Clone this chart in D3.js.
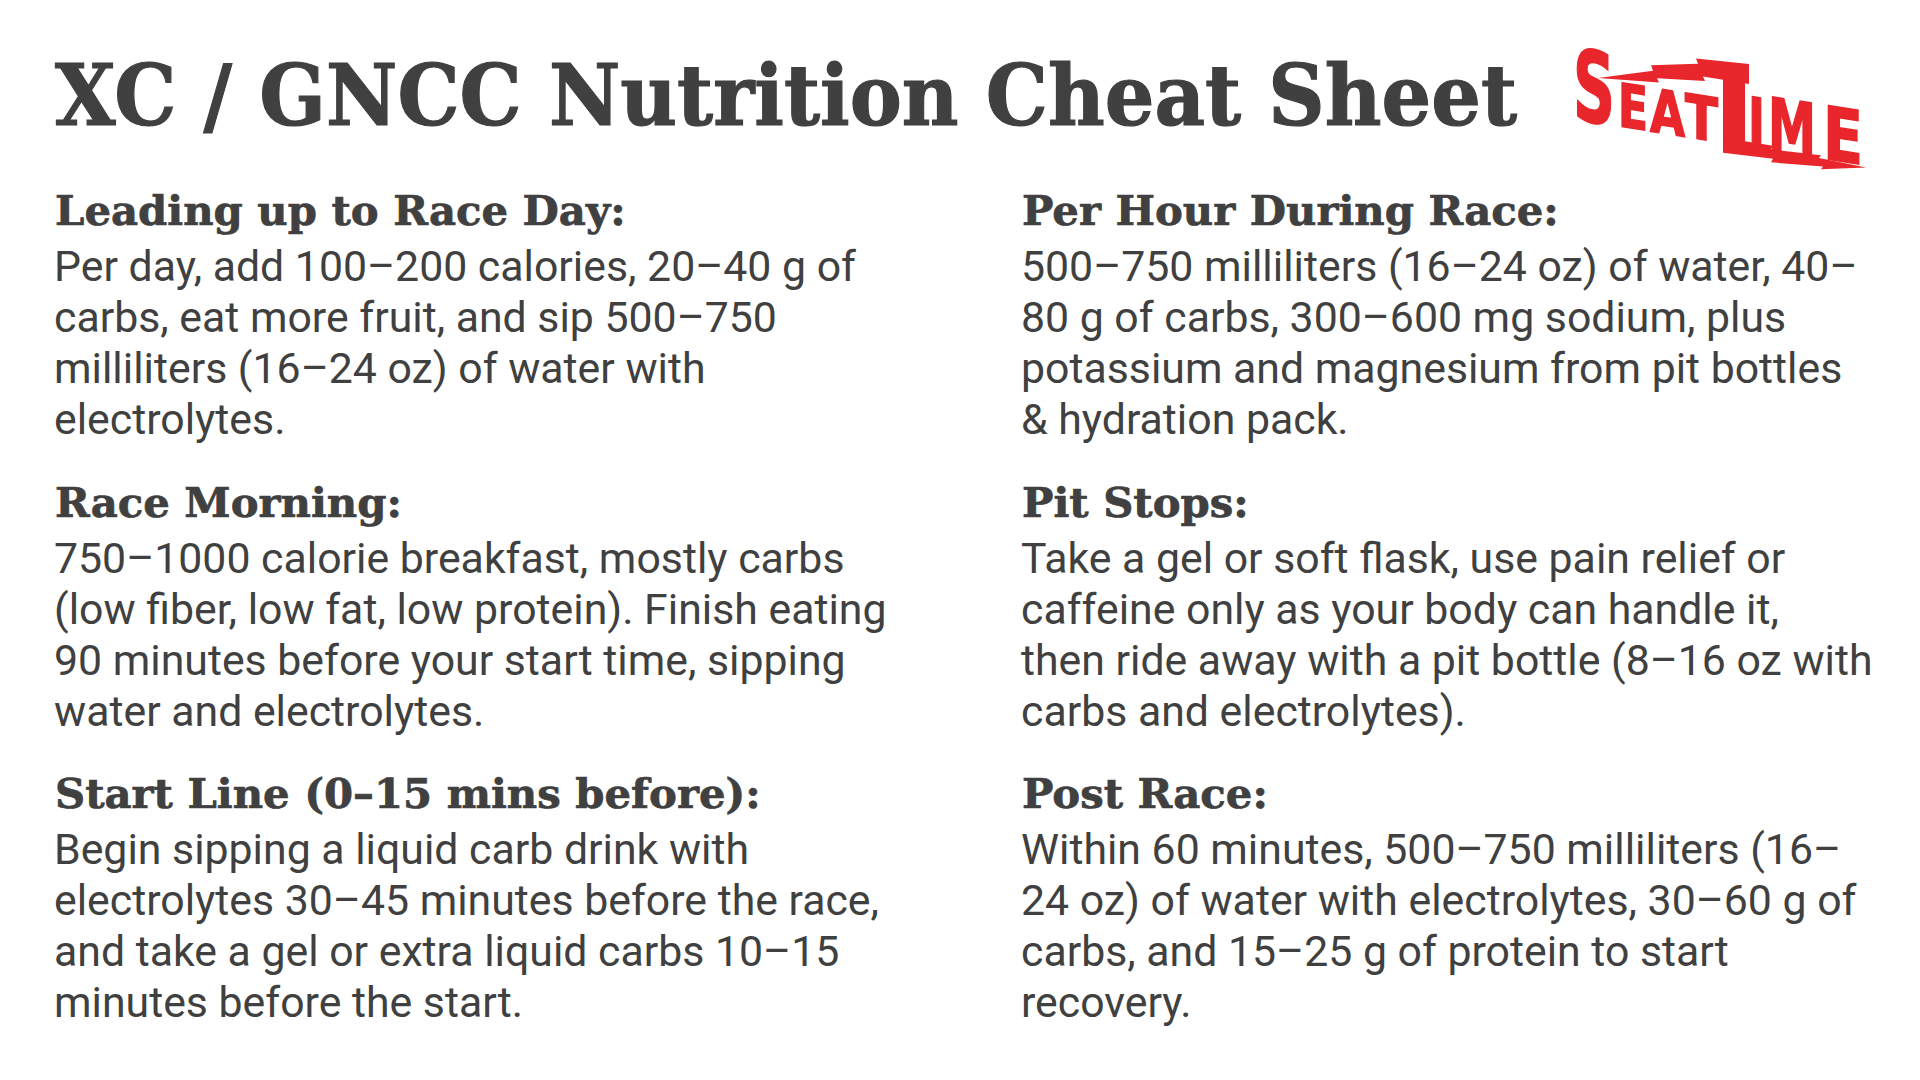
<!DOCTYPE html>
<html><head><meta charset="utf-8">
<script src="https://cdn.jsdelivr.net/npm/d3@7"></script>
<style>html,body{margin:0;padding:0;background:#fff;} svg{display:block;}</style>
</head><body>
<svg id="chart" width="1920" height="1080"></svg>
<script>
// ---------- data ----------
const title = "XC / GNCC Nutrition Cheat Sheet";
const logoLetters = ["S","E","A","T","I","M","E"];
const columns = ["left","right"];
const sectionColumn = ["left","left","left","right","right","right"];
const sectionRow = [0,1,2,0,1,2];
const headings = [
  "Leading up to Race Day:",
  "Race Morning:",
  "Start Line (0–15 mins before):",
  "Per Hour During Race:",
  "Pit Stops:",
  "Post Race:"
];
const bodyLines = [
  ["Per day, add 100–200 calories, 20–40 g of",
   "carbs, eat more fruit, and sip 500–750",
   "milliliters (16–24 oz) of water with",
   "electrolytes."],
  ["750–1000 calorie breakfast, mostly carbs",
   "(low fiber, low fat, low protein). Finish eating",
   "90 minutes before your start time, sipping",
   "water and electrolytes."],
  ["Begin sipping a liquid carb drink with",
   "electrolytes 30–45 minutes before the race,",
   "and take a gel or extra liquid carbs 10–15",
   "minutes before the start."],
  ["500–750 milliliters (16–24 oz) of water, 40–",
   "80 g of carbs, 300–600 mg sodium, plus",
   "potassium and magnesium from pit bottles",
   "& hydration pack."],
  ["Take a gel or soft flask, use pain relief or",
   "caffeine only as your body can handle it,",
   "then ride away with a pit bottle (8–16 oz with",
   "carbs and electrolytes)."],
  ["Within 60 minutes, 500–750 milliliters (16–",
   "24 oz) of water with electrolytes, 30–60 g of",
   "carbs, and 15–25 g of protein to start",
   "recovery."]
];

// ---------- layout ----------
const W = 1920, H = 1080;
const textColor = "#404040";
const red = "#e8262b";
const svg = d3.select("#chart");
svg.append("rect").attr("width", W).attr("height", H).attr("fill", "#fff");

const x = d3.scalePoint().domain(columns).range([54, 1021]);
const yRow = d3.scaleLinear().domain([0, 1]).range([225, 516.5]);
const yLine = d3.scaleLinear().domain([0, 1]).range([56, 107]); // offset from heading baseline

// title
svg.append("text")
  .attr("x", 55).attr("y", 125)
  .attr("font-family", "'DejaVu Serif', serif")
  .attr("font-weight", "bold")
  .attr("font-size", 84)
  .attr("fill", textColor)
  .attr("stroke", textColor)
  .attr("stroke-width", 1.2)
  .attr("textLength", 1462)
  .attr("lengthAdjust", "spacingAndGlyphs")
  .text(title);

// sections
const sections = headings.map((h, i) => ({
  heading: h, lines: bodyLines[i], col: sectionColumn[i], row: sectionRow[i]
}));
const g = svg.selectAll("g.section").data(sections).join("g")
  .attr("class", "section")
  .attr("transform", d => `translate(${x(d.col)},${yRow(d.row)})`);

g.append("text")
  .attr("x", 1).attr("y", 0)
  .attr("font-family", "'DejaVu Serif', serif")
  .attr("font-weight", "bold")
  .attr("font-size", 41.8)
  .attr("fill", textColor)
  .attr("stroke", textColor)
  .attr("stroke-width", 0.7)
  .text(d => d.heading);

g.selectAll("text.body").data(d => d.lines).join("text")
  .attr("class", "body")
  .attr("x", 0)
  .attr("y", (d, j) => yLine(j))
  .attr("font-family", "Roboto, 'Noto Sans', sans-serif")
  .attr("font-size", 42.8)
  .attr("fill", textColor)
  .text(d => d);

// ---------- logo ----------
const logo = svg.append("g").attr("transform", "translate(1573,50) skewY(9)");
// upper lightning bolt (forms the crossbar of the tall T)
logo.append("path")
  .attr("d", "M25,24 L80,8 L78,3 L125,-6 L123,-11 L176,-14 L176,6 L130,6 L132,10 L84,15 L86,19 Z")
  .attr("fill", red);
// stem of the tall T
logo.append("rect").attr("x", 150).attr("y", -8).attr("width", 22).attr("height", 78).attr("fill", red);
// lower lightning bolt
logo.append("path")
  .attr("d", "M150,64 L150,79 L200,77 L198,81 L250,77 L248,80 L293,71 L246,69 L248,66 L198,68 L200,64 Z")
  .attr("fill", red);

const letterSpec = [
  {x0: 0,   w: 42, top: -3, bottom: 69},
  {x0: 45,  w: 30, top: 25, bottom: 69},
  {x0: 77,  w: 35, top: 25, bottom: 69},
  {x0: 112, w: 33, top: 25, bottom: 69},
  {x0: 175, w: 17, top: 18, bottom: 69},
  {x0: 195, w: 48, top: 15, bottom: 69},
  {x0: 250, w: 40, top: 15, bottom: 69}
];
logo.selectAll("text.logo").data(logoLetters.map((l, i) => ({l, ...letterSpec[i]})))
  .join("text")
  .attr("class", "logo")
  .attr("x", d => d.x0)
  .attr("y", d => d.bottom)
  .attr("font-family", "'DejaVu Sans Condensed', 'DejaVu Sans', sans-serif")
  .attr("font-weight", "bold")
  .attr("font-size", d => (d.bottom - d.top) / 0.73)
  .attr("textLength", d => d.w)
  .attr("lengthAdjust", "spacingAndGlyphs")
  .attr("fill", red)
  .attr("stroke", red)
  .attr("stroke-width", 1.5)
  .text(d => d.l);
</script>
</body></html>
